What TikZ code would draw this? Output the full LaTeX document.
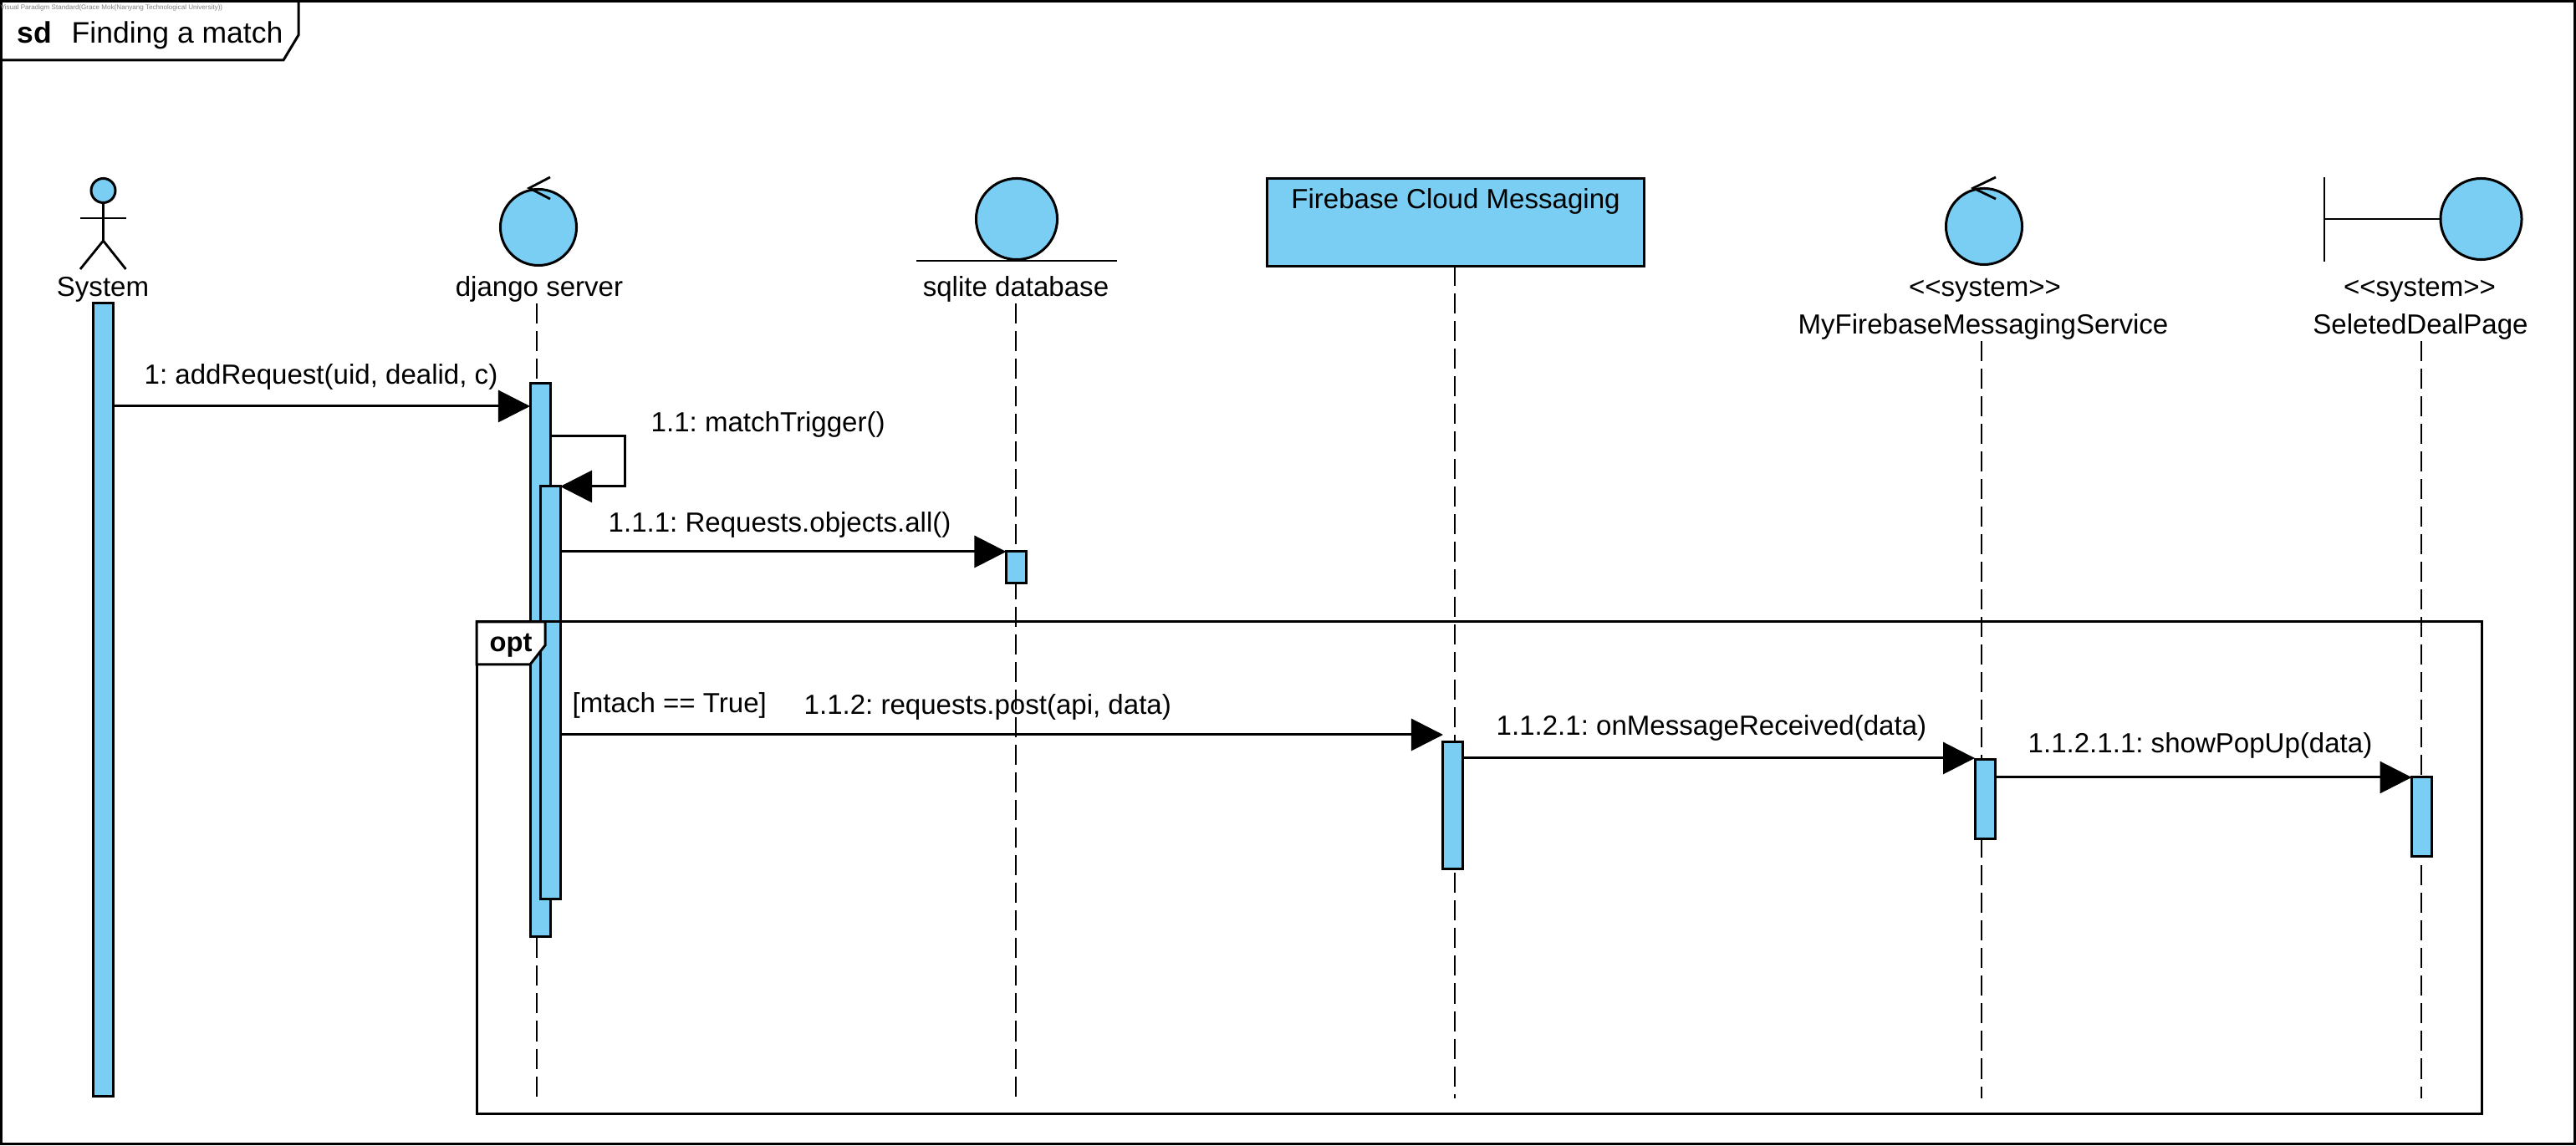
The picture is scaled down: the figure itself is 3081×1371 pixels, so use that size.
\documentclass[tikz,border=0pt]{standalone}
\usepackage{fontspec}
\setmainfont{Liberation Sans}
\frenchspacing
\usetikzlibrary{arrows.meta, shapes.geometric}
\definecolor{vpblue}{RGB}{122, 206, 244}
\newcommand{\txt}{\fontsize{9.4}{11}\selectfont}
\tikzset{
    bar/.style={draw, rectangle, fill=vpblue, line width=0.03cm, inner sep=0pt, outer sep=0pt, anchor=north west, minimum width=0.24cm},
    icon/.style={draw, circle, fill=vpblue, line width=0.03cm, inner sep=0pt, outer sep=0pt},
    stick/.style={line width=0.028cm},
    life/.style={line width=0.025cm, dash pattern=on 0.24cm off 0.09cm},
    msg/.style={line width=0.03cm, -{Triangle[length=0.38cm, width=0.38cm]}},
    lbl/.style={anchor=base west, inner sep=0pt, font=\txt, yshift=-0.015cm},
    nameLbl/.style={anchor=base, inner sep=0pt, font=\txt, yshift=-0.015cm},
    frm/.style={line width=0.03cm},
}

\begin{document}
\begin{tikzpicture}[x=0.01cm, y=-0.01cm]
    \useasboundingbox[fill=white] (0,0) rectangle (3081,1371);

    % lifelines
    \foreach \nm/\xx/\yy in {dj/642/363, db/1215/363, fcm/1740/318, svc/2370/408, page/2896/408} {
        \coordinate (\nm Top) at (\xx,\yy);
        \coordinate (\nm End) at (\xx,1314);
        \draw[life] (\nm Top) -- (\nm End);
    }

    % actor
    \node[icon, minimum size=0.29cm] (head) at (123.5,228) {};
    \coordinate (hip) at (123.5,288);
    \coordinate (armL) at (96,261);
    \coordinate (armR) at (150.5,261);
    \draw[stick] (head.south) -- (hip);
    \draw[stick] (armL) -- (armR);
    \draw[stick] (96,322) -- (hip) -- (150.5,322);
    \node[nameLbl] (sysLbl) at (123,353) {System};

    % control
    \node[icon, minimum size=0.91cm] (djCtl) at (644,272) {};
    \draw[stick] (658,212) -- (633,225) -- (658,238);
    \node[nameLbl] (djLbl) at (645,353) {django server};

    % entity
    \node[icon, minimum size=0.97cm] (dbEnt) at (1216,262) {};
    \draw[stick] (1096,312) -- (1336,312);
    \node[nameLbl] (dbLbl) at (1215,353) {sqlite database};

    % box
    \node[draw, rectangle, fill=vpblue, line width=0.03cm, outer sep=0pt, minimum width=4.51cm, minimum height=1.05cm] (fcmBox) at (1741,266) {};
    \node[nameLbl] (fcmLbl) at (1741,248) {Firebase Cloud Messaging};

    % control with stereotype
    \node[icon, minimum size=0.91cm] (svcCtl) at (2373,271) {};
    \draw[stick] (2387,212) -- (2360,225) -- (2387,238);
    \node[nameLbl] (svcSt) at (2374,353) {<{}<system>{}>};
    \node[nameLbl] (svcLbl) at (2372,398) {MyFirebaseMessagingService};

    % boundary
    \node[icon, minimum size=0.97cm] (pageBnd) at (2967.5,262) {};
    \draw[stick] (2780,212) -- (2780,313);
    \draw[stick] (2780,262) -- (pageBnd.west);
    \node[nameLbl] (pageSt) at (2894,353) {<{}<system>{}>};
    \node[nameLbl] (pageLbl) at (2895,398) {SeletedDealPage};

    % activation bars
    \node[bar, minimum height=9.48cm] (sysBar) at (111.5,363) {};
    \node[bar, minimum height=6.61cm] (djBarA) at (634,459) {};
    \node[bar, minimum height=4.93cm] (djBarB) at (646,582) {};
    \node[bar, minimum height=0.37cm] (dbBar) at (1203.5,660) {};
    \node[bar, minimum height=1.51cm] (fcmBar) at (1725.5,888) {};
    \node[bar, minimum height=0.94cm] (svcBar) at (2362,909) {};
    \node[bar, minimum height=0.94cm] (pageBar) at (2884.5,930) {};

    % messages
    \draw[msg] (sysBar.east |- 0,486) -- (djBarA.west |- 0,486);
    \node[lbl] (m1) at (172,458) {1: addRequest(uid, dealid, c)};

    \coordinate (selfTurn) at (747,582);
    \draw[msg] (djBarA.east |- 0,522) -| (selfTurn) -- (djBarB.east |- selfTurn);
    \node[lbl] (m2) at (778,515) {1.1: matchTrigger()};

    \draw[msg] (djBarB.east |- 0,660) -- (dbBar.west |- 0,660);
    \node[lbl] (m3) at (727,635) {1.1.1: Requests.objects.all()};

    \draw[msg] (djBarB.east |- 0,879) -- (1726,879);
    \node[lbl] (m4) at (961,853) {1.1.2: requests.post(api, data)};

    \draw[msg] (fcmBar.east |- 0,907) -- (svcBar.west |- 0,907);
    \node[lbl] (m5) at (1789,878) {1.1.2.1: onMessageReceived(data)};

    \draw[msg] (svcBar.east |- 0,930) -- (pageBar.west |- 0,930);
    \node[lbl] (m6) at (2425,899) {1.1.2.1.1: showPopUp(data)};

    % opt frame
    \draw[frm] (570,744) rectangle (2968,1333);
    \draw[frm, fill=white] (570,744) -- (652,744) -- (652,772) -- (634,795) -- (570,795) -- cycle;
    \node[lbl, font=\fontsize{9.3}{11}\selectfont\bfseries] (optLbl) at (585,778) {opt};
    \node[lbl] (guard) at (684,851) {[mtach == True]};

    % outer frame
    \draw[frm] (1.5,1.5) rectangle (3079,1369);
    \draw[frm] (1.5,72) -- (339,72) -- (357,42) -- (357,1.5);
    \node[lbl, font=\fontsize{10.1}{12}\selectfont\bfseries] (sdLbl) at (20,50) {sd};
    \node[lbl, font=\fontsize{10.1}{12}\selectfont] (titleLbl) at (85,50) {Finding a match};
    \node[lbl, font=\fontsize{2.3}{3}\selectfont, text=gray] (wmLbl) at (0,10) {Visual Paradigm Standard(Grace Mok(Nanyang Technological University))};
\end{tikzpicture}
\end{document}
